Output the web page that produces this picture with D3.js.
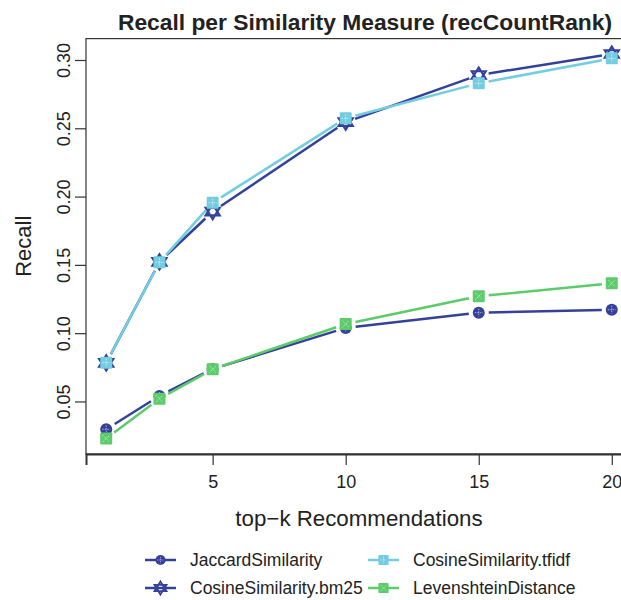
<!DOCTYPE html>
<html>
<head>
<meta charset="utf-8">
<script src="https://cdnjs.cloudflare.com/ajax/libs/d3/7.8.5/d3.min.js"></script>
<style>
  html, body { margin: 0; padding: 0; background: #fff; }
  svg { display: block; font-family: "Liberation Sans", Arial, Helvetica, sans-serif; }
</style>
</head>
<body>
<svg id="chart" width="621" height="600"></svg>
<script>
// データ
var kValues = [1, 3, 5, 10, 15, 20];
var jaccardValues = [0.0296, 0.0540, 0.0738, 0.1038, 0.1150, 0.1172];
var bm25Values = [0.0782, 0.1522, 0.1890, 0.2545, 0.2890, 0.3044];
var tfidfValues = [0.0784, 0.1519, 0.1955, 0.2573, 0.2829, 0.3012];
var levenshteinValues = [0.0228, 0.0520, 0.0736, 0.1067, 0.1270, 0.1365];

var seriesNames = ["JaccardSimilarity", "CosineSimilarity.bm25", "CosineSimilarity.tfidf", "LevenshteinDistance"];
var xTicks = [5, 10, 15, 20];
var yTicks = [0.05, 0.10, 0.15, 0.20, 0.25, 0.30];

var titleText = "Recall per Similarity Measure (recCountRank)";
var xLabel = "top\u2212k Recommendations";
var yLabel = "Recall";

var series = [
  { name: seriesNames[0], color: "#35409a", shape: "circle", values: jaccardValues },
  { name: seriesNames[1], color: "#35409a", shape: "star",   values: bm25Values },
  { name: seriesNames[2], color: "#72cde0", shape: "plus",   values: tfidfValues },
  { name: seriesNames[3], color: "#5ccb6a", shape: "cross",  values: levenshteinValues }
];

var svg = d3.select("#chart");
var margin = {top: 38.6, right: -11, bottom: 146, left: 86};
var width = 621 - margin.left - margin.right;
var height = 600 - margin.top - margin.bottom;

// R風に4%余白
var allY = d3.merge(series.map(function(s){ return s.values; }));
var yMin = d3.min(allY), yMax = d3.max(allY);
var yPad = (yMax - yMin) * 0.04;
var xPad = (d3.max(kValues) - d3.min(kValues)) * 0.04;

var x = d3.scaleLinear()
  .domain([d3.min(kValues) - xPad, d3.max(kValues) + xPad])
  .range([0, width]);
var y = d3.scaleLinear()
  .domain([yMin - yPad, yMax + yPad])
  .range([height, 0]);

var g = svg.append("g").attr("transform", "translate(" + margin.left + "," + margin.top + ")");

// 枠
g.append("rect")
  .attr("width", width)
  .attr("height", height)
  .attr("fill", "none")
  .attr("stroke", "#333")
  .attr("stroke-width", 1.2);

// X軸
var xAxis = g.append("g")
  .attr("transform", "translate(0," + height + ")")
  .call(d3.axisBottom(x).tickValues(xTicks).tickSize(11).tickPadding(10).tickFormat(d3.format("d")));
xAxis.select(".domain").attr("stroke", "#333").attr("stroke-width", 2);
xAxis.selectAll(".tick line").attr("stroke", "#333").attr("stroke-width", 1.2);
xAxis.selectAll("text").attr("font-size", 18).attr("fill", "#222").attr("font-family", null);

// Y軸
var yAxis = g.append("g")
  .call(d3.axisLeft(y).tickValues(yTicks).tickSize(11).tickFormat(d3.format(".2f")));
yAxis.select(".domain").remove();
yAxis.selectAll(".tick line").attr("stroke", "#333").attr("stroke-width", 1.2);
yAxis.selectAll("text")
  .attr("font-size", 18)
  .attr("fill", "#222")
  .attr("font-family", null)
  .attr("text-anchor", "middle")
  .attr("transform", "rotate(-90)")
  .attr("x", 0)
  .attr("y", -16)
  .attr("dy", 0);

// タイトル・軸ラベル
svg.append("text")
  .attr("x", 365)
  .attr("y", 30)
  .attr("text-anchor", "middle")
  .attr("font-size", 22.8)
  .attr("font-weight", "bold")
  .attr("fill", "#222")
  .text(titleText);

svg.append("text")
  .attr("x", margin.left + x(10.5))
  .attr("y", 526)
  .attr("text-anchor", "middle")
  .attr("font-size", 22.3)
  .attr("fill", "#222")
  .text(xLabel);

svg.append("text")
  .attr("transform", "translate(31," + (margin.top + height / 2) + ") rotate(-90)")
  .attr("text-anchor", "middle")
  .attr("font-size", 22)
  .attr("fill", "#222")
  .text(yLabel);

// マーカー
function drawMarker(sel, shape, color){
  var r = 6;
  if (shape === "circle"){
    sel.append("circle").attr("r", r).attr("fill", color);
    sel.append("path").attr("d", "M-4,0H4M0,-4V4")
      .attr("stroke", "#fff").attr("stroke-opacity", 0.55).attr("stroke-width", 1).attr("stroke-dasharray", "1.5 1");
  } else if (shape === "star"){
    var h = 7.5, w = 7;
    sel.append("path")
      .attr("d", "M0," + (-h) + "L" + w + "," + (h * 0.5) + "L" + (-w) + "," + (h * 0.5) + "Z" +
                 "M0," + h + "L" + w + "," + (-h * 0.5) + "L" + (-w) + "," + (-h * 0.5) + "Z")
      .attr("fill", "none").attr("stroke", color).attr("stroke-width", 2.2).attr("stroke-linejoin", "miter");
  } else {
    sel.append("rect").attr("x", -r).attr("y", -r).attr("width", 2 * r).attr("height", 2 * r)
      .attr("rx", 1).attr("fill", color);
    var d = shape === "plus" ? "M-4,0H4M0,-4V4" : "M-3.5,-3.5L3.5,3.5M-3.5,3.5L3.5,-3.5";
    sel.append("path").attr("d", d)
      .attr("stroke", "#fff").attr("stroke-opacity", 0.6).attr("stroke-width", 1).attr("stroke-dasharray", "1.5 1");
  }
}

// 線 (点の周りは隙間あり)
var gap = 10;
series.forEach(function(s){
  var pts = s.values.map(function(v, i){ return [x(kValues[i]), y(v)]; });
  var sg = g.append("g").attr("class", "series");
  for (var i = 0; i < pts.length - 1; i++){
    var p0 = pts[i], p1 = pts[i + 1];
    var dx = p1[0] - p0[0], dy = p1[1] - p0[1];
    var len = Math.sqrt(dx * dx + dy * dy);
    if (len <= 2 * gap) continue;
    var ux = dx / len, uy = dy / len;
    sg.append("line")
      .attr("x1", p0[0] + ux * gap).attr("y1", p0[1] + uy * gap)
      .attr("x2", p1[0] - ux * gap).attr("y2", p1[1] - uy * gap)
      .attr("stroke", s.color)
      .attr("stroke-width", 2.5);
  }
  pts.forEach(function(p){
    var m = sg.append("g").attr("transform", "translate(" + p[0] + "," + p[1] + ")");
    drawMarker(m, s.shape, s.color);
  });
});

// 凡例
var legendPos = [
  {lx: 145, ty: 560}, {lx: 145, ty: 588},
  {lx: 368, ty: 560}, {lx: 368, ty: 588}
];
series.forEach(function(s, i){
  var pos = legendPos[i];
  var lg = svg.append("g").attr("transform", "translate(" + pos.lx + "," + pos.ty + ")");
  lg.append("line").attr("x1", 0).attr("x2", 31).attr("y1", 0).attr("y2", 0)
    .attr("stroke", s.color).attr("stroke-width", 2.5);
  var m = lg.append("g").attr("transform", "translate(15.5,0) scale(0.85)");
  drawMarker(m, s.shape, s.color);
  lg.append("text")
    .attr("x", 45)
    .attr("y", 0)
    .attr("dy", "0.36em")
    .attr("font-size", 17.5)
    .attr("fill", "#222")
    .text(s.name);
});
</script>
</body>
</html>
